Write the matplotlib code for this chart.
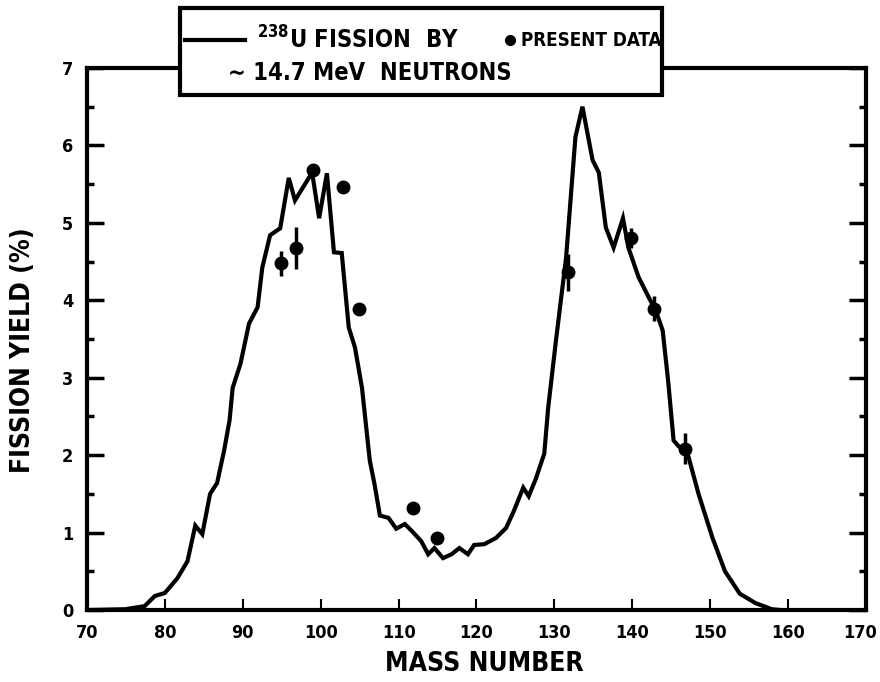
import matplotlib
matplotlib.use("Agg")
import matplotlib.pyplot as plt
import matplotlib.transforms as mtransforms
from matplotlib.patches import Rectangle
from matplotlib.lines import Line2D

# ---- data ----
mass_curve = [70, 74.9, 77.4, 78.7, 80.0, 81.6, 82.9, 83.9, 84.8, 85.8, 86.7, 87.6, 88.3,
              88.7, 89.7, 90.8, 91.9, 92.5, 93.5, 94.8, 95.9, 96.7, 98.9, 99.8, 100.8,
              101.7, 102.7, 103.6, 104.4, 105.3, 106.3, 106.9, 107.6, 108.7, 109.7,
              110.8, 111.7, 112.9, 113.8, 114.6, 115.7, 116.8, 117.8, 118.9, 119.7,
              121.0, 122.5, 123.8, 124.8, 126.0, 126.7, 127.6, 128.7, 129.2, 130.2,
              131.5, 132.7, 133.6, 134.9, 135.7, 136.6, 137.6, 138.8, 139.5, 140.8,
              142.1, 143.0, 143.9, 144.6, 145.3, 145.9, 147.1, 148.5, 150.3, 151.9,
              153.8, 155.8, 157.9, 159.0]
yield_curve = [0.0, 0.01, 0.05, 0.18, 0.22, 0.41, 0.63, 1.09, 0.98, 1.50, 1.64, 2.06, 2.45,
               2.87, 3.18, 3.70, 3.91, 4.42, 4.84, 4.93, 5.58, 5.29, 5.65, 5.06, 5.64,
               4.62, 4.61, 3.65, 3.39, 2.87, 1.93, 1.63, 1.22, 1.19, 1.05,
               1.11, 1.02, 0.89, 0.72, 0.80, 0.67, 0.72, 0.80, 0.72, 0.84,
               0.85, 0.93, 1.06, 1.28, 1.58, 1.47, 1.69, 2.02, 2.61, 3.48,
               4.55, 6.11, 6.50, 5.81, 5.65, 4.94, 4.68, 5.06, 4.68, 4.30,
               4.04, 3.87, 3.61, 2.96, 2.19, 2.12, 2.02, 1.50, 0.93, 0.50,
               0.21, 0.09, 0.01, 0.0]

mass_data = [94.9, 96.8, 99.0, 102.8, 104.9, 111.9, 114.9, 131.7, 139.8, 142.8, 146.8]
yield_data = [4.48, 4.68, 5.68, 5.46, 3.89, 1.32, 0.93, 4.36, 4.81, 3.89, 2.08]
yield_err = [0.16, 0.27, 0.05, 0.0, 0.07, 0.0, 0.08, 0.24, 0.13, 0.16, 0.20]

x_ticks = [70, 80, 90, 100, 110, 120, 130, 140, 150, 160, 170]
y_ticks = [0, 1, 2, 3, 4, 5, 6, 7]

FONT = ['DejaVu Sans']
plt.rcParams['font.family'] = FONT
plt.rcParams['font.weight'] = 'bold'
plt.rcParams['font.stretch'] = 'condensed'

fig = plt.figure(figsize=(8.8, 6.82), dpi=100)
ax = fig.add_axes([87/880, 1 - 610/682, (866 - 87)/880, (610 - 68)/682])

ax.plot(mass_curve, yield_curve, color='black', lw=3.0, solid_joinstyle='miter', zorder=3)
ax.errorbar(mass_data, yield_data, yerr=yield_err, fmt='o', color='black',
            ms=9, elinewidth=2.5, capsize=0, zorder=4)

ax.set_xlim(70, 170)
ax.set_ylim(0, 7)
ax.set_xticks(x_ticks)
ax.set_yticks(y_ticks)
ax.set_yticks([0.5 + i for i in range(7)], minor=True)
ax.tick_params(axis='y', which='major', direction='in', length=12, width=2.5,
               left=True, right=True, labelsize=13, pad=10)
ax.tick_params(axis='y', which='minor', direction='in', length=5, width=2.5,
               left=True, right=True)
ax.tick_params(axis='x', which='major', direction='in', length=8, width=1.5,
               labelsize=13, pad=10)
xlabels = ax.get_xticklabels()
for lab in xlabels + ax.get_yticklabels():
    lab.set_fontweight('heavy')
    lab.set_fontstretch('condensed')
# nudge the last x label slightly inward so it stays inside the figure
last = xlabels[-1]
last.set_transform(last.get_transform() +
                   mtransforms.ScaledTranslation(-6/100, 0, fig.dpi_scale_trans))
for s in ax.spines.values():
    s.set_linewidth(3)

ax.set_xlabel('MASS NUMBER', fontsize=19, fontweight='heavy', labelpad=6)
ax.set_ylabel('FISSION YIELD (%)', fontsize=19, fontweight='heavy', labelpad=10)
ax.xaxis.set_label_coords(0.51, -0.075)
ax.yaxis.set_label_coords(-0.066, 0.48)

# legend box
W, H = 880, 682
def fx(px):
    return px / W
def fy(py):
    return 1 - py / H

fig.patches.append(Rectangle((fx(180), fy(95)), fx(662) - fx(180), fy(8) - fy(95),
                             transform=fig.transFigure, facecolor='white',
                             edgecolor='black', lw=3, zorder=10))
fig.lines.append(Line2D([fx(185), fx(245)], [fy(40), fy(40)], transform=fig.transFigure,
                        color='black', lw=3, zorder=11))
fig.text(fx(257), fy(40), '$^{238}$U FISSION  BY', fontsize=17, fontweight='heavy',
         va='center', ha='left', zorder=12)
fig.text(fx(228), fy(73), '\u223c 14.7 MeV  NEUTRONS', fontsize=17, fontweight='heavy',
         va='center', ha='left', zorder=12)
fig.lines.append(Line2D([fx(510)], [fy(40)], transform=fig.transFigure, marker='o',
                        ms=7, color='black', lw=0, zorder=11))
fig.text(fx(521), fy(40), 'PRESENT DATA', fontsize=13.5, fontweight='heavy',
         va='center', ha='left', zorder=12)

fig.savefig('out.png', dpi=100)
